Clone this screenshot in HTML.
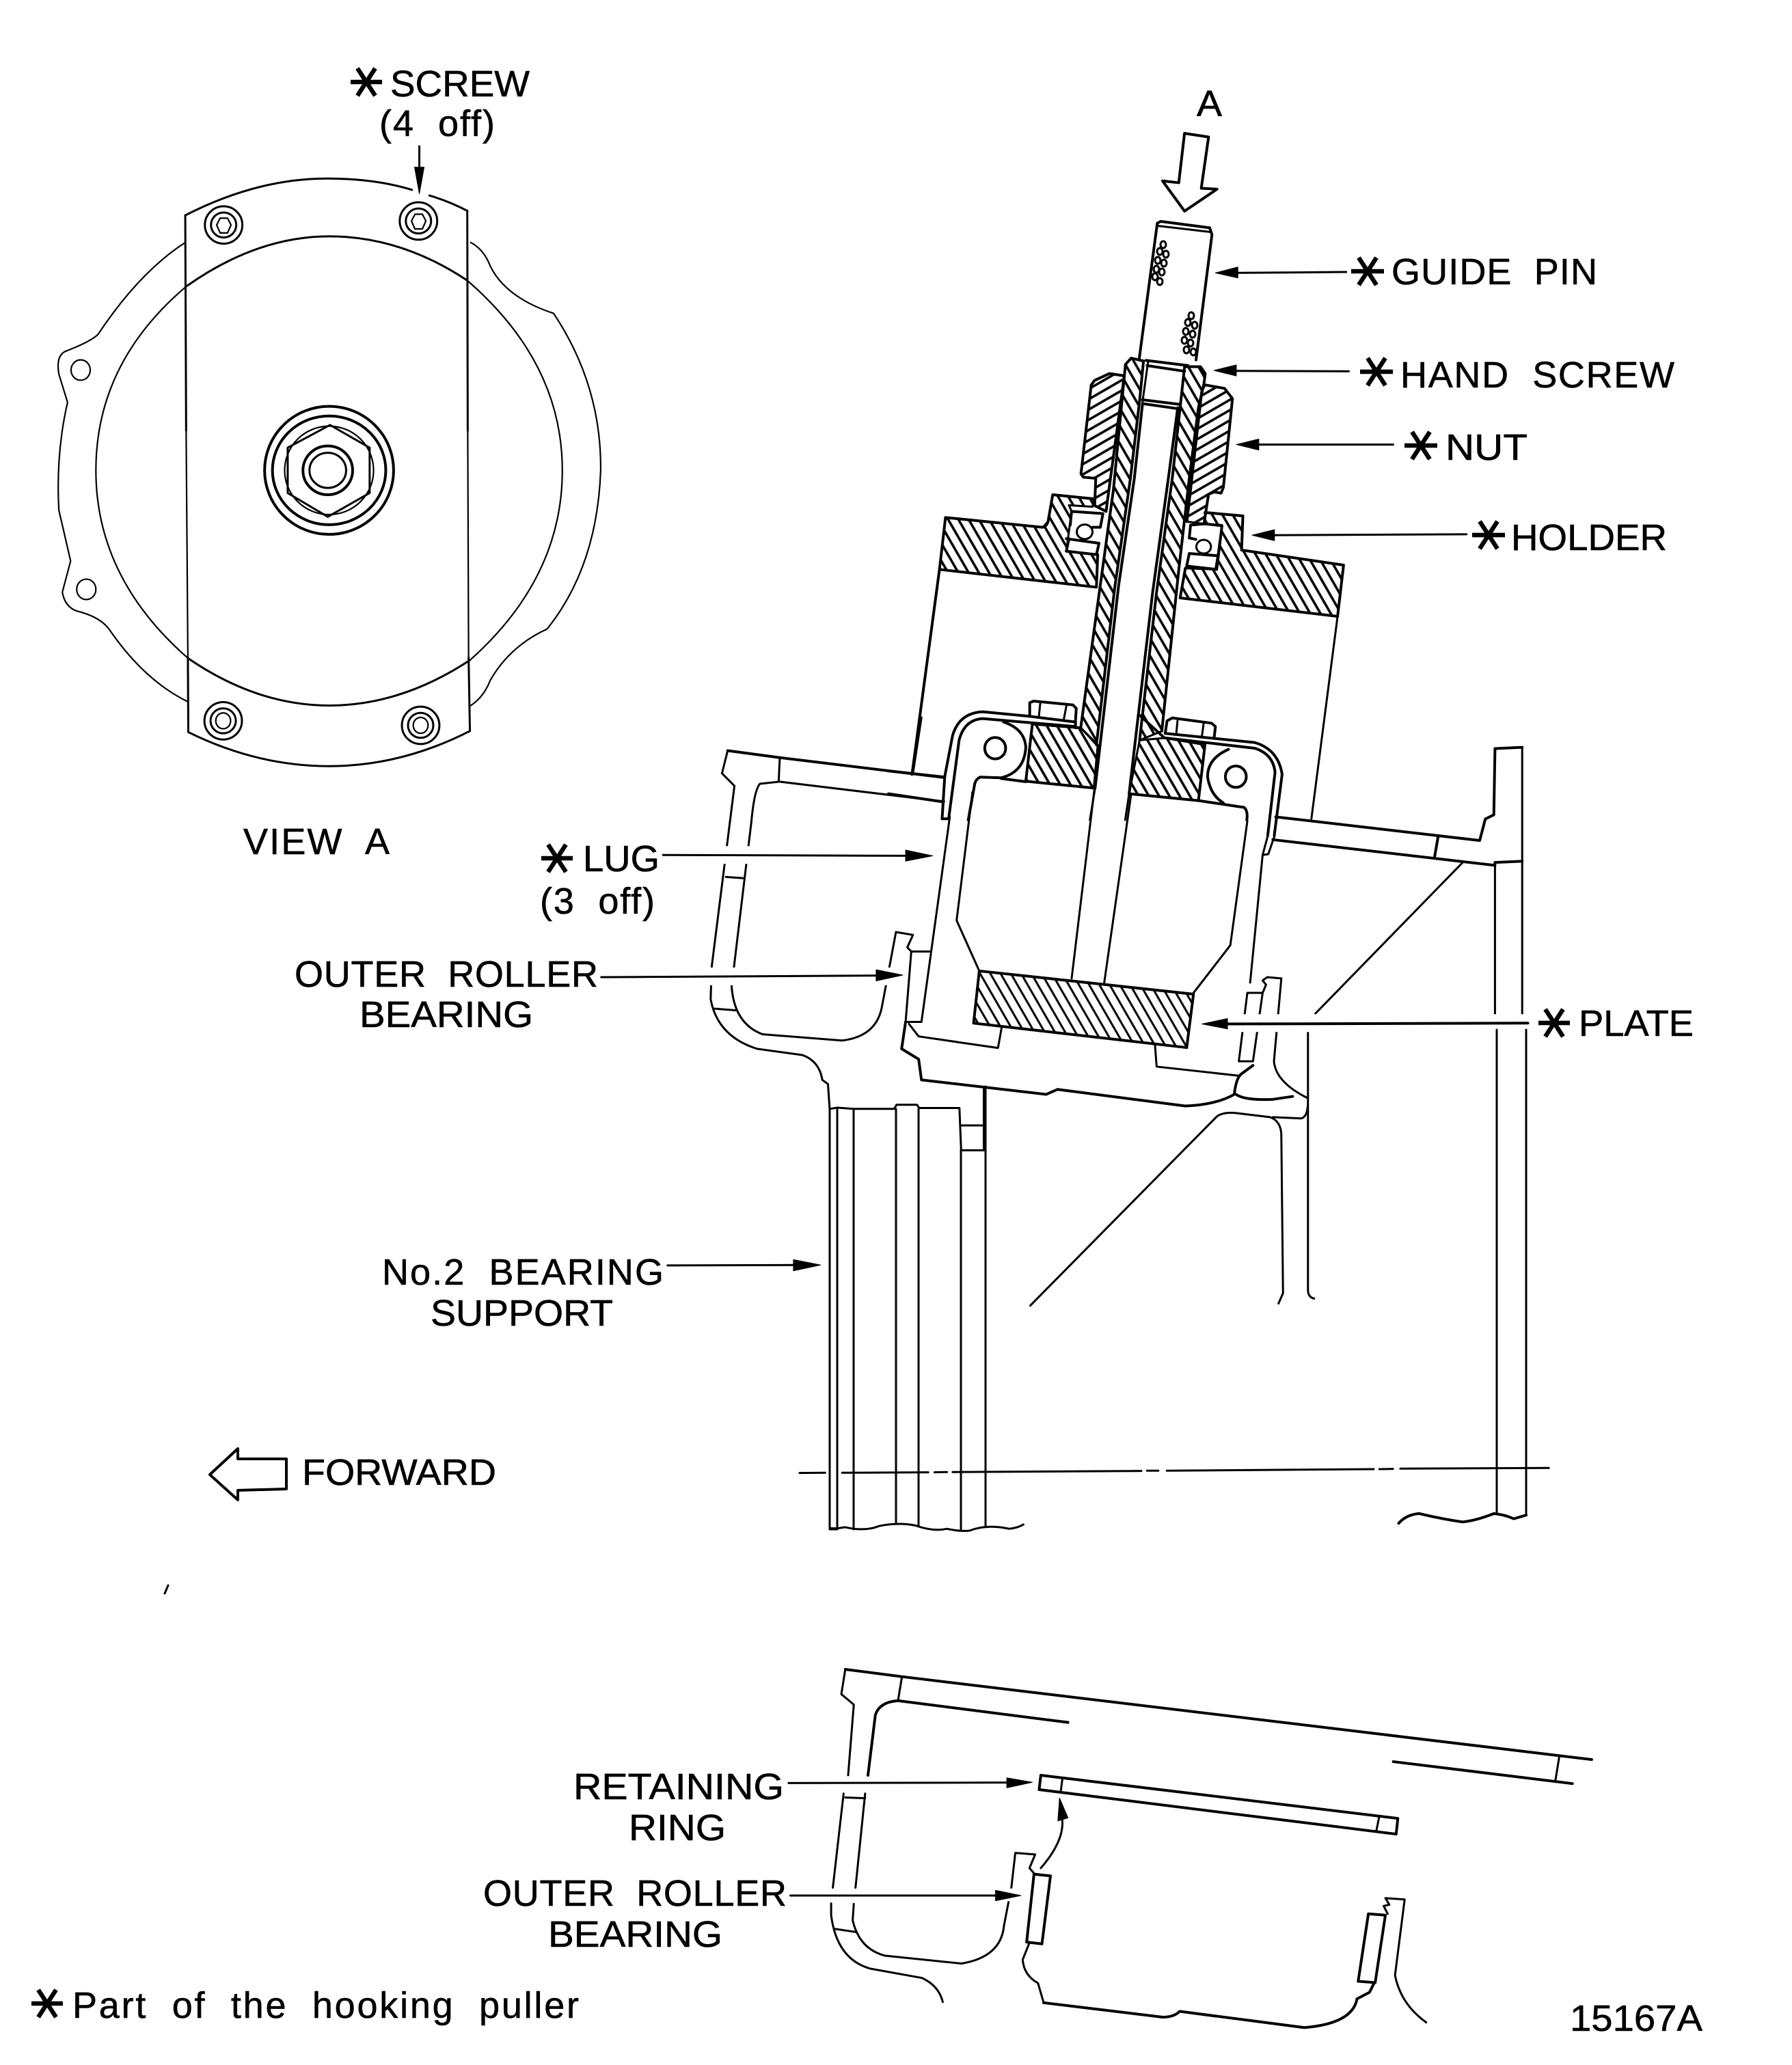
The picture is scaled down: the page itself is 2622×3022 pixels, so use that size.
<!DOCTYPE html>
<html><head><meta charset="utf-8"><title>Hooking puller</title>
<style>
html,body{margin:0;padding:0;background:#fff;width:2622px;height:3022px;overflow:hidden}
svg{display:block}
svg *{vector-effect:non-scaling-stroke}
.l path,.l ellipse,.l polygon,.l line{fill:none;stroke:#000;stroke-width:3;stroke-linejoin:round;stroke-linecap:round}
.l .t{stroke-width:4}
.l .n{stroke-width:2.2}
.l .a{stroke-width:6.5;stroke-linecap:butt}
.l .f{fill:#000;stroke:#000;stroke-width:1}
.l .w{fill:#fff}
.l .m{stroke:#fff;stroke-width:26;stroke-linecap:butt}
.l .h2{fill:url(#h2)}.l .h3{fill:url(#h3)}.l .h6{fill:url(#h6)}.l .hA{fill:url(#hA)}
text{font-family:"Liberation Sans",sans-serif;font-size:54px;fill:#000;white-space:pre;stroke:#000;stroke-width:.6}
</style></head><body>
<svg width="2622" height="3022" viewBox="0 0 2622 3022" xmlns="http://www.w3.org/2000/svg">
<defs>
<pattern id="h6" patternUnits="userSpaceOnUse" width="13" height="13" patternTransform="scale(2.613,3) rotate(60)"><path d="M0 6.5H13" stroke="#000" stroke-width="3.6" fill="none" style="vector-effect:none"/></pattern>
<pattern id="h3" patternUnits="userSpaceOnUse" width="13" height="13" patternTransform="scale(1.206,1.65) rotate(60)"><path d="M0 6.5H13" stroke="#000" stroke-width="3" fill="none" style="vector-effect:none"/></pattern>
<pattern id="hA" patternUnits="userSpaceOnUse" width="13" height="13" patternTransform="scale(3) rotate(-30)"><path d="M0 6.5H13" stroke="#000" stroke-width="3.6" fill="none" style="vector-effect:none"/></pattern>
</defs>
<rect width="2622" height="3022" fill="#fff"/>

<g class="l">
<!-- VIEW A -->
<g transform="translate(0,0) scale(.6378,.8293)">
<path class="n" d="M425 428Q320 480 225 590Q210 602 150 620Q128 628 135 660L155 710Q128 800 135 900L162 990L143 1045Q150 1075 185 1080Q230 1090 250 1110Q330 1200 430 1238"/>
<path class="n" d="M1080 428Q1110 440 1125 470Q1160 525 1270 553Q1380 680 1378 830Q1370 1000 1255 1110Q1170 1140 1125 1200Q1110 1230 1080 1245"/>
<ellipse class="n" cx="185" cy="653" rx="22" ry="18"/><ellipse class="n" cx="198" cy="1040" rx="22" ry="18"/>
<path class="n" d="M428 505Q220 640 220 830Q220 1020 432 1162M1072 495Q1290 640 1290 830Q1290 1020 1078 1165"/>
<path d="M428 505Q590 417 755 417Q920 417 1072 495"/>
<path d="M432 1162Q590 1245 755 1245Q920 1245 1078 1165"/>
<path d="M425 380Q590 315 750 315Q860 315 945 335M985 345Q1030 355 1072 372"/>
<path d="M432 1292Q590 1352 755 1352Q920 1352 1078 1290"/>
<path d="M425 380L427 760"/><path class="n" d="M427 760L431 1160"/><path d="M431 1160L432 1292"/>
<path d="M1072 372L1073 760"/><path class="n" d="M1073 760L1075 1160"/><path d="M1075 1160L1078 1290"/>
<ellipse cx="513" cy="397" rx="43" ry="33"/><ellipse cx="513" cy="397" rx="29" ry="22"/><polygon class="n" points="497,397 505,385 522,385 530,397 522,411 505,411"/>
<ellipse cx="960" cy="390" rx="43" ry="33"/><ellipse cx="960" cy="390" rx="29" ry="22"/><polygon class="n" points="944,390 952,378 969,378 977,390 969,404 952,404"/>
<ellipse cx="512" cy="1272" rx="43" ry="33"/><ellipse cx="512" cy="1272" rx="29" ry="22"/><ellipse class="n" cx="512" cy="1272" rx="17" ry="14"/>
<ellipse cx="965" cy="1280" rx="43" ry="33"/><ellipse cx="965" cy="1280" rx="29" ry="22"/><ellipse class="n" cx="965" cy="1280" rx="17" ry="14"/>
<ellipse class="t" cx="755" cy="830" rx="148" ry="113"/><ellipse class="t" cx="755" cy="830" rx="130" ry="96"/>
<ellipse class="n" cx="755" cy="830" rx="102" ry="78"/>
<polygon points="757,750 848,790 848,870 752,912 660,870 660,790"/>
<ellipse class="t" cx="752" cy="830" rx="57" ry="43"/><ellipse cx="752" cy="830" rx="42" ry="31"/>
<line x1="962" y1="258" x2="962" y2="310"/><polygon class="f" points="962,342 951,295 973,295"/>
</g>

<!-- Crop 2 region: arrow A, leaders -->
<g transform="translate(1300,100) scale(.7653,.6698)">
<polygon class="t" points="566,142 612,150 598,262 628,264 566,312 524,246 555,250"/>
<line x1="875" y1="445" x2="655" y2="447"/><polygon class="f" points="625,447 668,434 668,458"/>
<line x1="880" y1="662" x2="650" y2="661"/><polygon class="f" points="622,660 665,648 665,672"/>
<line x1="965" y1="822" x2="695" y2="822"/><polygon class="f" points="665,822 708,810 708,834"/>
<line x1="1105" y1="1018" x2="725" y2="1020"/><polygon class="f" points="695,1020 738,1008 738,1032"/>
</g>

<!-- Guide pin -->
<g transform="translate(1660,310) scale(.3333)">
<path class="t" d="M20 650L100 50L115 42L330 70L340 100L270 650"/>
<path d="M105 62L330 88"/>
</g>
<g>
<ellipse cx="1702" cy="358" rx="4" ry="5"/><ellipse cx="1697" cy="368" rx="4" ry="5"/><ellipse cx="1706" cy="372" rx="4" ry="5"/><ellipse cx="1694" cy="381" rx="4" ry="5"/><ellipse cx="1703" cy="385" rx="4" ry="5"/><ellipse cx="1692" cy="394" rx="4" ry="5"/><ellipse cx="1700" cy="398" rx="4" ry="5"/><ellipse cx="1690" cy="405" rx="4" ry="5"/><ellipse cx="1697" cy="412" rx="4" ry="5"/>
<ellipse cx="1743" cy="462" rx="4" ry="5"/><ellipse cx="1738" cy="472" rx="4" ry="5"/><ellipse cx="1748" cy="476" rx="4" ry="5"/><ellipse cx="1735" cy="485" rx="4" ry="5"/><ellipse cx="1745" cy="489" rx="4" ry="5"/><ellipse cx="1733" cy="498" rx="4" ry="5"/><ellipse cx="1742" cy="502" rx="4" ry="5"/><ellipse cx="1736" cy="512" rx="4" ry="5"/><ellipse cx="1746" cy="515" rx="4" ry="5"/>
</g>

<!-- Nut and neck -->
<g transform="translate(1570,500) scale(.3333)">
<polygon class="hA" points="80,190 95,170 160,140 225,150 145,745 95,720 100,600 45,595 35,580"/>
<path class="t" d="M225 150L160 140L95 170L80 190L35 580L45 595L100 600L95 720L145 745"/>
<polygon class="hA" points="580,190 665,205 700,250 660,640 650,665 620,660 595,670 575,800 500,790 565,220"/>
<path class="t" d="M580 190L665 205L700 250L660 640L650 665L620 660L595 670L575 800"/>
<path class="t" d="M225 150L145 745M565 220L500 790"/>
<path class="t" d="M320 82L505 105M325 105L490 130M305 255L465 275M305 272L465 295"/>
<path d="M330 85L305 265M490 110L470 290"/>
</g>

<!-- Crop 6 region: holder, sleeves, bolts -->
<g transform="translate(1300,700) scale(.3827,.3333)">
<polygon class="h6" points="218,172 590,215 610,190 628,72 785,90 780,125 690,118 700,145 680,320 800,335 795,478 195,400"/>
<path class="t" d="M218 172L590 215Q605 210 610 190L628 72L785 90M800 335L795 478L195 400L218 172"/>
<path class="t" d="M700 145L820 155L810 215L780 215M700 145L695 205M680 265L805 285L795 335L680 320L690 265"/>
<ellipse cx="750" cy="235" rx="30" ry="32"/>
<polygon class="h6" points="1210,150 1355,165 1350,315 1740,381 1717,606 1115,525 1135,395 1250,400 1260,330 1275,205 1210,200"/>
<path class="t" d="M1210 150L1355 165L1350 315L1740 381L1717 606L1115 525L1135 395"/>
<path class="t" d="M1210 200L1275 208L1255 400L1140 385L1150 330L1260 340M1155 205L1150 262L1175 268M1155 205L1210 200"/>
<ellipse cx="1205" cy="300" rx="28" ry="30"/>
<polygon class="h6" points="906,-500 928,-528 975,-515 960,-340 925,0 865,480 795,1170 735,1095 860,50"/>
<path class="t" d="M906 -500L928 -528L975 -515L960 -340L925 0L865 480L795 1170M906 -500L860 50L735 1095"/>
<polygon class="h6" points="1145,-490 1193,-490 1211,-460 1206,-415 1185,-310 1150,0 1110,400 1045,1110 960,1150 1025,500 1085,0 1115,-310 1132,-490"/>
<path class="t" d="M1132 -490L1193 -490L1211 -460L1206 -415L1185 -310L1150 0L1110 400L1045 1110M1132 -490L1115 -310L1085 0L1025 500L960 1150"/>
<path class="t" d="M971 -325L940 0L880 470L790 1360"/>
<path d="M790 1360L770 1500"/>
<path class="t" d="M1106 -310L1070 0L1010 500L920 1385"/>
<path d="M920 1385L905 1500"/>
<polygon class="h6" points="550,1080 715,1095 735,1095 800,1170 785,1360 525,1330"/>
<path class="t" d="M550 1080L525 1330L785 1360M715 1095L735 1095"/>
<polygon class="h6" points="1055,1140 1210,1170 1185,1415 920,1385 960,1150"/>
<path class="t" d="M1210 1170L1185 1415L920 1385M1055 1140L960 1040"/>
<path class="t" d="M205 1495L215 1310L245 1130Q270 1030 360 1025L540 1045L715 1070L715 1090L360 1055Q290 1060 270 1150L230 1495Z"/>
<path class="t" d="M440 1070Q520 1100 525 1180Q520 1290 430 1315L350 1312Q335 1320 330 1340L305 1500M430 1318L525 1332"/>
<ellipse class="t" cx="408" cy="1185" rx="40" ry="47"/>
<path class="t" d="M0 1285L215 1312M0 1385L205 1420M90 1300L195 400"/>
<path class="t" d="M540 1045L540 985L555 978L705 995L718 1010L715 1065"/>
<path d="M580 990L575 1045M680 1000L670 1060"/>
<path class="t" d="M1058 1120L1065 1065L1085 1052L1235 1075L1250 1090L1245 1140"/>
<path d="M1105 1065L1100 1125M1205 1075L1198 1135"/>
<path class="t" d="M1058 1120L1400 1160Q1490 1190 1505 1300L1475 1568"/>
<path class="t" d="M1060 1140L1400 1185Q1470 1210 1478 1290L1450 1568"/>
<path class="t" d="M1300 1190Q1220 1230 1220 1310Q1230 1390 1280 1425M1185 1415L1360 1445Q1375 1460 1370 1500"/>
<ellipse class="t" cx="1328" cy="1310" rx="40" ry="47"/>
<path d="M1717 606L1617 1494"/>
</g>

<!-- Crop 3 region: lug, plate, housing -->
<g transform="translate(1000,1050) scale(.8292,.6061)">
<path d="M420 0L405 135"/>
<path d="M470 240L420 735L392 735L402 565L435 565M510 180L482 490L522 612"/>
<path d="M1043 286L1032 330L1022 332L1000 640M1031 286L1022 332M995 250L965 550L900 665"/>
<path d="M685 630L725 175M742 645L790 185"/>
<polygon class="h3" points="522,612 900,668 888,797 512,738"/>
<path class="t" d="M522 612L900 668L888 797L512 738Z"/>
<path d="M398 740L415 770L555 798L562 745M832 790L835 843L980 865L1005 840"/>
<path d="M995 665L1022 665L1005 830L980 830Z"/>
<!-- left housing -->
<path class="t" d="M78 80L170 97L460 145"/>
<path d="M78 80L68 135L90 165L50 600L48 680Q60 770 130 800L210 815Q240 830 245 875L255 885L258 945"/>
<path d="M460 203L170 155L135 160Q125 175 120 250L85 650Q90 740 140 765L280 780Q340 770 350 700L375 518L405 525L395 555L402 565"/>
<path d="M170 97L168 155M75 385L105 388M55 703L92 707"/>
<!-- bearing support top -->
<path d="M258 945L272 942L300 945L372 945L376 935L412 935L416 943L487 943L490 1045L530 1045M490 985L530 985M530 895L530 1045"/>
<!-- bottom contour -->
<path class="t" d="M392 735L385 800L415 825L420 875L640 910L660 898L885 938Q940 935 972 910Q975 870 985 860L1005 840"/>
<path d="M1022 665L1028 645L1022 635L1030 627L1055 630L1042 830Q1045 880 1100 918"/>
<path class="t" d="M975 910Q990 925 1040 922L1075 915"/>
<path d="M612 1420L940 965Q950 952 975 955L1035 965Q1055 975 1055 1010L1058 1390L1050 1415"/>
<path d="M1040 965L1090 968Q1102 965 1102 925L1102 1385Q1103 1400 1113 1403M1102 757L1102 925"/>
<path d="M1115 715L1375 350"/>
<!-- right flange -->
<path class="t" d="M1045 240L1405 297L1415 245L1430 235L1432 75L1480 72"/>
<path class="t" d="M1040 295L1432 357L1432 350L1480 347M1332 285L1325 340"/>
<path d="M1480 72L1480 717"/>
<path d="M1432 350L1432 717"/>
<!-- masks and leaders -->
<line class="m" x1="60" y1="332" x2="125" y2="332"/>
<line class="m" x1="30" y1="625" x2="100" y2="625"/>
<line class="m" x1="340" y1="625" x2="380" y2="625"/>
<line class="m" x1="960" y1="738" x2="1500" y2="738"/>
<line x1="-36" y1="332" x2="400" y2="334"/><polygon class="f" points="440,334 392,320 392,347"/>
<line x1="-145" y1="627" x2="350" y2="623"/><polygon class="f" points="387,622 340,609 340,636"/>
<line class="t" x1="950" y1="740" x2="1490" y2="738"/><polygon class="f" points="915,740 960,727 960,752"/>
<line x1="-28" y1="1323" x2="205" y2="1322"/><polygon class="f" points="242,1322 194,1309 194,1336"/>
</g>

<!-- verticals -->
<g>
<path d="M1214 1623V2238H1225V1621M1249 1623V2238M1311 1623V2230M1344 1623V2232M1406 1683V2238M1442 1590V2235"/>
<path d="M2190 1507V2215M2233 1507V2217"/>
</g>

<!-- Crop 4 -->
<g transform="translate(1000,1900) scale(.8292,.3333)">
<path d="M258 1010L272 1010L285 1005Q320 1025 345 1000Q380 982 410 998Q440 1025 465 1012Q490 1025 505 1020Q535 990 575 1012Q590 1008 600 993"/>
<path class="t" d="M1262 988Q1275 950 1298 945Q1340 970 1375 982Q1400 975 1430 945Q1450 950 1465 968L1487 952"/>
<path d="M205 767L250 766M280 766L432 764M443 764L465 763M475 763L808 758M818 757L838 757M853 757L1218 750M1228 750L1252 749M1265 748L1527 745"/>
</g>

<!-- Crop 5 -->
<g transform="translate(1100,2420) scale(.8292,.3827)">
<path class="t" d="M165 60L265 88L1482 405"/>
<path d="M165 60L158 155L180 195L170 465M265 88L258 180"/>
<path class="t" d="M558 263L258 180Q225 185 218 235L205 465"/>
<path d="M162 535L143 895M200 535L183 895M165 550L200 553"/>
<path d="M140 955L140 1000Q150 1170 210 1205L300 1240Q330 1270 337 1332"/>
<path d="M180 957L178 1020Q190 1130 235 1155L370 1185Q440 1160 445 1040L453 950M458 895L465 762L500 768L490 820L498 840M145 1052L185 1065"/>
<path class="t" d="M1132 413L1448 497"/>
<path d="M1425 392L1418 485"/>
<path class="t" d="M510 465L1140 630L1137 690L507 520Z"/>
<path d="M548 480L545 530M1107 625L1102 678"/>
<path d="M510 820Q550 720 548 640L545 590"/>
<polygon class="f" points="543,552 558,628 540,640"/>
<line x1="65" y1="495" x2="455" y2="493"/><polygon class="f" points="495,492 450,475 450,513"/>
<line x1="68" y1="925" x2="435" y2="925"/><polygon class="f" points="475,925 430,905 430,945"/>
<path class="t" d="M498 843L527 850L512 1110L485 1103Z"/>
<path d="M490 1105L478 1170Q480 1230 505 1260L515 1335"/>
<path class="t" d="M515 1335L725 1390Q745 1390 755 1368L975 1430Q1060 1415 1068 1320L1090 1295L1098 1260"/>
<path class="t" d="M1088 995L1118 1000L1100 1258L1070 1253Z"/>
<path d="M1122 995L1115 965L1125 960L1118 935L1152 940L1135 1230Q1145 1340 1190 1410"/>
</g>

<!-- Forward arrow -->
<polygon class="t" points="419,2135 348,2135 348,2120 307,2158 348,2195 348,2181 419,2179"/>
<path d="M246 2320L241 2332"/>

<!-- Asterisks -->
<path class="a" d="M513 120H559M523 100L549 140M549 100L523 140"/>
<path class="a" d="M792 1256H838M802 1236L828 1276M828 1236L802 1276"/>
<path class="a" d="M1977 397H2025M1988 377L2014 417M2014 377L1988 417"/>
<path class="a" d="M1990 544H2038M2001 524L2027 564M2027 524L2001 564"/>
<path class="a" d="M2055 652H2103M2066 632L2092 672M2092 632L2066 672"/>
<path class="a" d="M2154 783H2202M2165 763L2191 803M2191 763L2165 803"/>
<path class="a" d="M2251 1497H2297M2261 1477L2287 1517M2287 1477L2261 1517"/>
<path class="a" d="M46 2932H92M56 2912L82 2952M82 2912L56 2952"/>
</g>

<!-- Labels -->
<text x="571" y="141" textLength="204" lengthAdjust="spacingAndGlyphs">SCREW</text>
<text x="555" y="199" textLength="169">(4  off)</text>
<text x="356" y="1250" textLength="214">VIEW  A</text>
<text x="853" y="1275" textLength="112" lengthAdjust="spacingAndGlyphs">LUG</text>
<text x="790" y="1337" textLength="168">(3  off)</text>
<text x="431" y="1444" textLength="444">OUTER  ROLLER</text>
<text x="526" y="1503" textLength="254" lengthAdjust="spacingAndGlyphs">BEARING</text>
<text x="1751" y="170" textLength="37" lengthAdjust="spacingAndGlyphs">A</text>
<text x="2036" y="416" textLength="301">GUIDE  PIN</text>
<text x="2049" y="567" textLength="401">HAND  SCREW</text>
<text x="2115" y="673" textLength="120" lengthAdjust="spacingAndGlyphs">NUT</text>
<text x="2211" y="805" textLength="228" lengthAdjust="spacingAndGlyphs">HOLDER</text>
<text x="2310" y="1516" textLength="168" lengthAdjust="spacingAndGlyphs">PLATE</text>
<text x="559" y="1880" textLength="412">No.2  BEARING</text>
<text x="630" y="1940" textLength="267" lengthAdjust="spacingAndGlyphs">SUPPORT</text>
<text x="442" y="2173" textLength="284" lengthAdjust="spacingAndGlyphs">FORWARD</text>
<text x="839" y="2633" textLength="308" lengthAdjust="spacingAndGlyphs">RETAINING</text>
<text x="920" y="2693" textLength="142" lengthAdjust="spacingAndGlyphs">RING</text>
<text x="707" y="2789" textLength="444">OUTER  ROLLER</text>
<text x="802" y="2849" textLength="255" lengthAdjust="spacingAndGlyphs">BEARING</text>
<text x="106" y="2953" textLength="741">Part  of  the  hooking  puller</text>
<text x="2297" y="2972" textLength="194" lengthAdjust="spacingAndGlyphs">15167A</text>
</svg>
</body></html>
